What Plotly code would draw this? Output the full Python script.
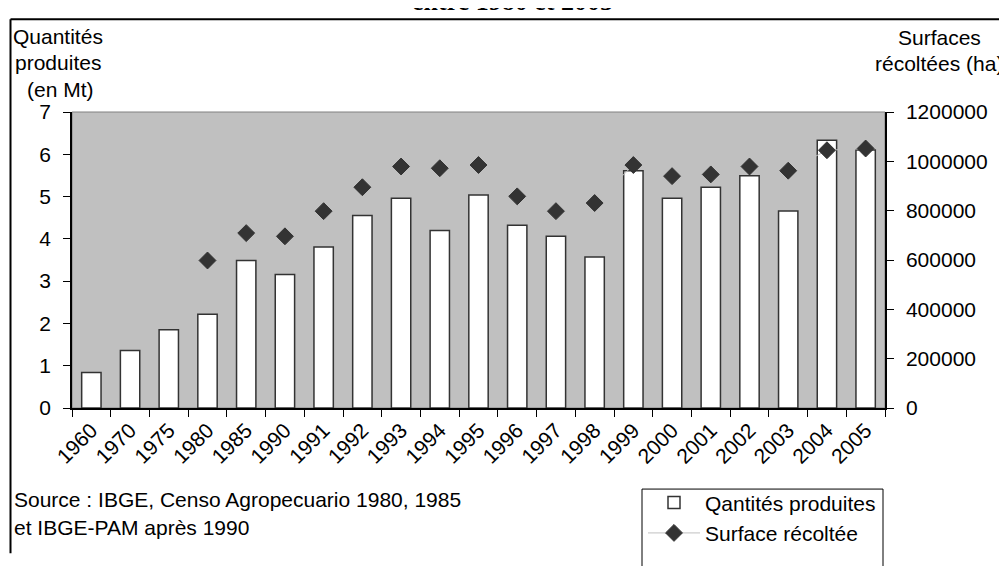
import plotly.graph_objects as go

# ---------------- data ----------------
years = ["1960", "1970", "1975", "1980", "1985", "1990", "1991", "1992", "1993", "1994",
         "1995", "1996", "1997", "1998", "1999", "2000", "2001", "2002", "2003", "2004", "2005"]
quantites_mt = [0.84, 1.36, 1.85, 2.22, 3.49, 3.16, 3.81, 4.55, 4.96, 4.20,
                5.04, 4.32, 4.06, 3.57, 5.61, 4.96, 5.22, 5.49, 4.66, 6.33, 6.10]
surface_years = ["1980", "1985", "1990", "1991", "1992", "1993", "1994", "1995", "1996", "1997",
                 "1998", "1999", "2000", "2001", "2002", "2003", "2004", "2005"]
surface_ha = [598000, 709000, 696000, 798000, 895000, 979000, 972000, 985000, 858000, 798000,
              831000, 985000, 940000, 947000, 979000, 962000, 1045000, 1052000]

left_ticks = [0, 1, 2, 3, 4, 5, 6, 7]
right_ticks = [0, 200000, 400000, 600000, 800000, 1000000, 1200000]

# ---------------- layout geometry ----------------
# The page adds an 8px body margin, so the figure is drawn 8px smaller and
# every target pixel position is shifted by -8.
OFF = 8
W, H = 1007 - OFF, 566 - OFF
L, R, T, B = 72 - OFF, 885 - OFF, 112 - OFF, 426 - OFF
FONT = "Liberation Sans, Arial, sans-serif"
FS = 21


def xp(px):
    """target page pixel x -> paper coordinate"""
    return (px - OFF - L) / (R - L)


def yp(py):
    """target page pixel y -> paper coordinate"""
    return (B - (py - OFF)) / (B - T)


fig = go.Figure()

fig.add_trace(go.Bar(
    x=years, y=quantites_mt, name="Qantités produites",
    width=0.5,
    marker=dict(color="white", line=dict(color="#333333", width=1.5)),
    xaxis="x", yaxis="y",
))

fig.add_trace(go.Scatter(
    x=surface_years, y=surface_ha, name="Surface récoltée",
    mode="lines+markers",
    line=dict(color="#c0c0c0", width=1),
    marker=dict(symbol="diamond", size=13, color="#333333",
                line=dict(color="#333333", width=1)),
    xaxis="x", yaxis="y2",
))

axis_font = dict(family=FONT, size=FS, color="black")

fig.update_layout(
    width=W, height=H, autosize=False,
    margin=dict(l=L, r=W - R, t=T, b=H - B, pad=0),
    paper_bgcolor="white",
    plot_bgcolor="#c0c0c0",
    font=dict(family=FONT, size=FS, color="black"),
    showlegend=True,
    legend=dict(
        x=xp(643), y=yp(505), xanchor="left", yanchor="top",
        bgcolor="rgba(0,0,0,0)", borderwidth=0,
        font=dict(family=FONT, size=FS, color="black"),
        tracegroupgap=0, itemwidth=52,
    ),
    bargap=0.5,
    xaxis=dict(
        type="category", categoryorder="array", categoryarray=years,
        range=[-0.5, len(years) - 0.5],
        tickson="boundaries", ticks="outside", ticklen=7, tickcolor="black", tickwidth=1,
        tickangle=-45, tickfont=axis_font,
        showline=True, linecolor="black", linewidth=1.5,
        showgrid=False, zeroline=False,
    ),
    xaxis2=dict(
        overlaying="x", anchor="y", side="bottom",
        range=[-0.5, len(years) - 0.5], tick0=-0.5, dtick=1,
        ticks="inside", ticklen=6, tickcolor="black", tickwidth=1,
        showticklabels=False, showline=False, showgrid=False, zeroline=False,
    ),
    yaxis=dict(
        range=[0, 7], tickvals=left_ticks, ticks="outside", ticklen=7,
        tickcolor="black", tickwidth=1, tickfont=axis_font,
        showline=True, linecolor="black", linewidth=1.5,
        showgrid=False, zeroline=False, ticklabelstandoff=8,
    ),
    yaxis2=dict(
        range=[0, 1200000], tickvals=right_ticks, tickformat="d",
        overlaying="y", side="right", anchor="x",
        ticks="outside", ticklen=7, tickcolor="black", tickwidth=1, tickfont=axis_font,
        showline=True, linecolor="black", linewidth=1.5,
        showgrid=False, zeroline=False, ticklabelstandoff=8,
    ),
    yaxis3=dict(
        range=[0, 7], tickvals=left_ticks, overlaying="y", side="left", anchor="x",
        ticks="inside", ticklen=6, tickcolor="black", tickwidth=1,
        showticklabels=False, showline=False, showgrid=False, zeroline=False,
    ),
    yaxis4=dict(
        range=[0, 1200000], tickvals=right_ticks, overlaying="y", side="right", anchor="x",
        ticks="inside", ticklen=5, tickcolor="black", tickwidth=1,
        showticklabels=False, showline=False, showgrid=False, zeroline=False,
    ),
)

# plot-area border and page frame
fig.add_shape(type="rect", xref="paper", yref="paper", x0=0, x1=1, y0=0, y1=1,
              line=dict(color="#808080", width=1), layer="below")
fig.add_shape(type="line", xref="paper", yref="paper",
              x0=xp(10.5), x1=xp(1010), y0=yp(13.5), y1=yp(13.5),
              line=dict(color="black", width=2))
fig.add_shape(type="line", xref="paper", yref="paper",
              x0=xp(10.5), x1=xp(10.5), y0=yp(13.5), y1=yp(580),
              line=dict(color="black", width=2))
# legend frame (runs off the bottom of the picture, as in the original)
fig.add_shape(type="rect", xref="paper", yref="paper",
              x0=xp(642), x1=xp(883), y0=yp(512), y1=yp(600),
              line=dict(color="black", width=1), fillcolor="white", layer="above")

annots = [
    ("Quantités", 58, 32, "center"),
    ("produites", 58, 60, "center"),
    ("(en Mt)", 60, 88, "center"),
    ("Surfaces", 939, 33, "center"),
    ("récoltées (ha)", 939, 61, "center"),
]
for text, px, py, anchor in annots:
    fig.add_annotation(text=text, xref="paper", yref="paper", x=xp(px), y=yp(py),
                       xanchor=anchor, yanchor="middle", showarrow=False,
                       font=dict(family=FONT, size=FS, color="black"))

for text, py in [("Source : IBGE, Censo Agropecuario 1980, 1985", 523),
                 ("et IBGE-PAM après 1990", 553)]:
    fig.add_annotation(text=text, xref="paper", yref="paper", x=xp(12), y=yp(py),
                       xanchor="left", yanchor="middle", showarrow=False,
                       font=dict(family=FONT, size=FS, color="black"))

# title (mostly cut off at the top of the image, only its lower edge shows)
fig.add_annotation(text="<b>entre 1980 et 2005</b>", xref="paper", yref="paper",
                   x=xp(512), y=yp(12.5), xanchor="center", yanchor="bottom", showarrow=False,
                   font=dict(family="Liberation Serif, Times New Roman, serif", size=26, color="black"))

fig.write_html("out.html")
